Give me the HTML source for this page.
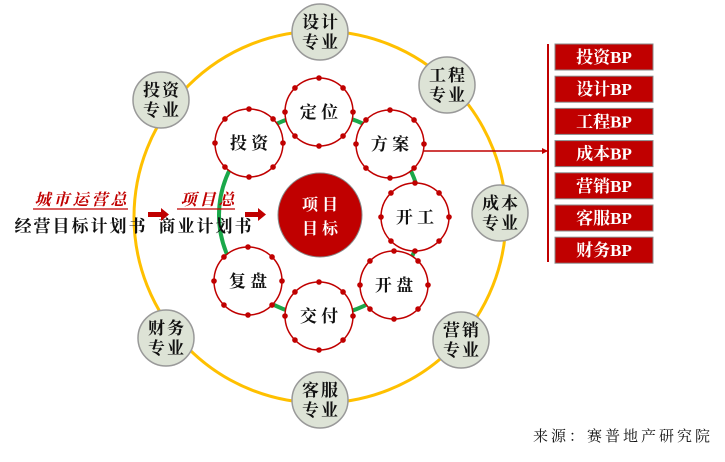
<!DOCTYPE html>
<html><head><meta charset="utf-8"><style>
body{margin:0;width:725px;height:457px;background:#fff;overflow:hidden;font-family:"Liberation Serif","Noto Serif CJK SC",serif}
</style></head><body>
<svg width="725" height="457" xmlns="http://www.w3.org/2000/svg" font-family="'Liberation Serif','Noto Serif CJK SC',serif" font-weight="bold">
<circle cx="320" cy="217" r="186" fill="none" stroke="#ffc000" stroke-width="3"/>
<circle cx="320" cy="215" r="101" fill="none" stroke="#1aa84a" stroke-width="4"/>
<g stroke="#999" stroke-width="1.5" fill="#dde3d6">
<circle cx="320" cy="32" r="28"/><circle cx="447" cy="85" r="28"/><circle cx="500" cy="213" r="28"/>
<circle cx="461" cy="340" r="28"/><circle cx="320" cy="400" r="28"/><circle cx="166" cy="338" r="28"/><circle cx="161" cy="100" r="28"/>
</g>
<g font-size="17" text-anchor="middle" fill="#111" letter-spacing="2">
<text x="321" y="28">设计</text><text x="321" y="48">专业</text>
<text x="448" y="81">工程</text><text x="448" y="101">专业</text>
<text x="501" y="209">成本</text><text x="501" y="229">专业</text>
<text x="462" y="336">营销</text><text x="462" y="356">专业</text>
<text x="321" y="396">客服</text><text x="321" y="416">专业</text>
<text x="167" y="334">财务</text><text x="167" y="354">专业</text>
<text x="162" y="96">投资</text><text x="162" y="116">专业</text>
</g>
<circle cx="320" cy="215" r="42" fill="#c00000" stroke="#888" stroke-width="1"/>
<text x="320" y="210" font-size="16" fill="#fff" text-anchor="middle">项 目</text>
<text x="320" y="234" font-size="16" fill="#fff" text-anchor="middle">目 标</text>
<g id="inner"></g>
<line x1="424" y1="151" x2="548" y2="151" stroke="#c00000" stroke-width="1.5"/>
<polygon points="548,151 542,148 542,154" fill="#c00000"/>
<line x1="548" y1="44" x2="548" y2="262" stroke="#c00000" stroke-width="2"/>
<g id="boxes"></g>
<text x="82" y="205" font-size="16" fill="#c00000" font-style="italic" text-anchor="middle" letter-spacing="3">城市运营总</text>
<line x1="33" y1="209" x2="128" y2="209" stroke="#c00000" stroke-width="1.2"/>
<text x="81" y="232" font-size="17" fill="#111" text-anchor="middle" letter-spacing="2">经营目标计划书</text>
<text x="209" y="205" font-size="16" fill="#c00000" font-style="italic" text-anchor="middle" letter-spacing="3">项目总</text>
<line x1="177" y1="209" x2="235" y2="209" stroke="#c00000" stroke-width="1.2"/>
<text x="206" y="232" font-size="17" fill="#111" text-anchor="middle" letter-spacing="2">商业计划书</text>
<polygon points="148,212 161,212 161,208 169,214.5 161,221 161,217 148,217" fill="#c00000"/>
<polygon points="245,212 258,212 258,208 266,214.5 258,221 258,217 245,217" fill="#c00000"/>
<text x="623" y="441" font-size="15" font-weight="normal" fill="#111" text-anchor="middle" letter-spacing="3">来源：赛普地产研究院</text>
</svg>
<script>
var ns="http://www.w3.org/2000/svg";
function el(t,a,p,txt){var e=document.createElementNS(ns,t);for(var k in a)e.setAttribute(k,a[k]);if(txt)e.textContent=txt;p.appendChild(e);return e;}
var g=document.getElementById("inner");
[["定位",319,112],["方案",390,144],["开工",415,217],["开盘",394,285],["交付",319,316],["复盘",248,281],["投资",249,143]].forEach(function(n){
el("circle",{cx:n[1],cy:n[2],r:34,fill:"#fff",stroke:"#c00000","stroke-width":1.5},g);
for(var i=0;i<8;i++){var a=i*Math.PI/4;el("circle",{cx:n[1]+34*Math.sin(a),cy:n[2]-34*Math.cos(a),r:2.8,fill:"#c00000"},g);}
el("text",{x:n[1],y:n[2]+6,"font-size":17,"text-anchor":"middle",fill:"#111"},g,n[0][0]+" "+n[0][1]);
});
var b=document.getElementById("boxes");
["投资BP","设计BP","工程BP","成本BP","营销BP","客服BP","财务BP"].forEach(function(t,i){
var y=44+i*32.2;
el("rect",{x:555,y:y,width:98,height:26,fill:"#c00000",stroke:"#888","stroke-width":1},b);
el("text",{x:604,y:y+19,"font-size":17,"text-anchor":"middle",fill:"#fff"},b,t);
});
</script>
</body></html>
